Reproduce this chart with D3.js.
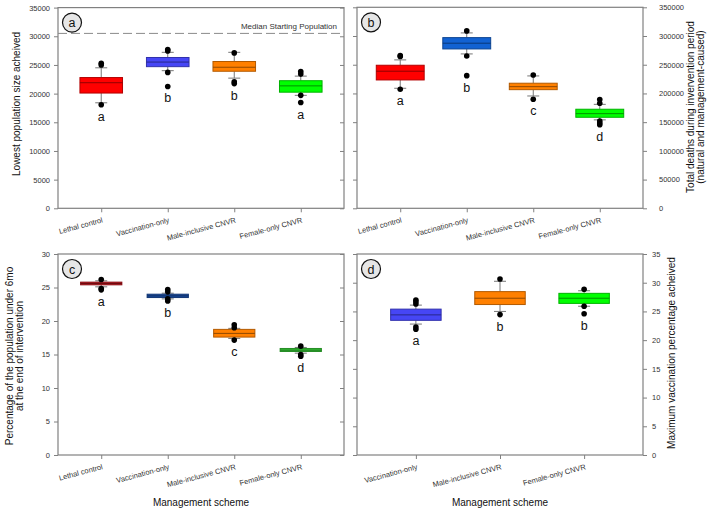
<!DOCTYPE html>
<html><head><meta charset="utf-8">
<script src="https://cdn.jsdelivr.net/npm/d3@7"></script>
<style>body{margin:0;background:#fff}svg{display:block;font-family:"Liberation Sans",Arial,sans-serif}</style>
</head><body><svg id="chart" width="708" height="510"></svg>
<script>
// ---------- data ----------
const cats4 = ["Lethal control","Vaccination-only","Male-inclusive CNVR","Female-only CNVR"];
const cats3 = ["Vaccination-only","Male-inclusive CNVR","Female-only CNVR"];

// (a) Lowest population size achieved
const aLow  = [18400,24000,22700,19700];
const aQ1   = [20100,24700,23900,20250];
const aMed  = [21900,25500,24600,21350];
const aQ3   = [22800,26300,25600,22250];
const aHigh = [24500,27200,27200,23050];
const aOut  = [[25300,25000,18050],[27700,27450,23700,21250],[27100,22050,21750],[23850,23400,19700,18450]];
const aLetters = ["a","b","b","a"];
const medianStartingPopulation = 30500;

// (b) Total deaths during intervention period
const bLow  = [209000,268800,195600,154000];
const bQ1   = [223500,277500,206600,158500];
const bMed  = [238700,287500,211800,164800];
const bQ3   = [249100,297200,217800,172500];
const bHigh = [258400,305400,230500,181000];
const bOut  = [[265800,264500,207300],[308900,265300,231000],[232200,189900],[189500,183000,152000,148500,145500]];
const bLetters = ["a","b","c","d"];

// (c) Percentage of population under 6mo
const cLow  = [25.1,23.3,17.4,15.2];
const cQ1   = [25.4,23.5,17.6,15.45];
const cMed  = [25.6,23.75,18.15,15.65];
const cQ3   = [25.8,24.0,18.75,15.9];
const cHigh = [26.0,24.15,18.9,16.05];
const cOut  = [[26.2,24.85,24.65],[24.7,24.35,23.3,23.0],[19.45,19.0,17.15],[16.25,15.0,14.75]];
const cLetters = ["a","b","c","d"];

// (d) Maximum vaccination percentage achieved
const dLow  = [22.8,25.0,25.9];
const dQ1   = [23.45,26.2,26.4];
const dMed  = [24.4,27.3,27.3];
const dQ3   = [25.4,28.45,28.15];
const dHigh = [26.1,30.25,28.6];
const dOut  = [[27.0,26.7,26.3,22.3,21.9],[30.65,24.45],[28.85,25.9,24.6]];
const dLetters = ["a","b","b"];

const aTicks = [0,5000,10000,15000,20000,25000,30000,35000];
const bTicks = [0,50000,100000,150000,200000,250000,300000,350000];
const cTicks = [0,5,10,15,20,25,30];
const dTicks = [0,5,10,15,20,25,30,35];

const colA = ["#ff0000","#4646f5","#ff8000","#00ff00"];
const colB = ["#ff0000","#1262d2","#ff8000","#00ff00"];
const colC = ["#c0141c","#1a4ea6","#ff8000","#36c936"];
const colD = ["#4646f5","#ff8000","#00ff00"];

// ---------- drawing ----------
const svg = d3.select("#chart");
const AX = "#808080", TXT = "#333", FONT = '"Liberation Sans",Arial,sans-serif';

function panel(cfg){
  const g = svg.append("g");
  const n = cfg.cats.length;
  const x = d3.scaleLinear().domain(cfg.xdom).range([cfg.l, cfg.r]);
  const y = d3.scaleLinear().domain([0, cfg.ymax]).range([cfg.b, cfg.t]);
  const step = x(2) - x(1);
  const bw = step * cfg.bwf;
  const cap = 12;
  const idx = d3.range(1, n + 1);

  // frame
  g.append("rect").attr("x", cfg.l).attr("y", cfg.t).attr("width", cfg.r - cfg.l).attr("height", cfg.b - cfg.t)
    .attr("fill", "none").attr("stroke", AX).attr("stroke-width", 1.2);

  // y axis with labels
  const ax = cfg.side === "left" ? d3.axisLeft(y) : d3.axisRight(y);
  const yg = g.append("g").attr("transform", `translate(${cfg.side === "left" ? cfg.l : cfg.r},0)`)
    .call(ax.tickValues(cfg.ticks).tickSize(4).tickPadding(cfg.pad).tickFormat(d3.format("d")));
  yg.attr("font-family", FONT);
  yg.select(".domain").remove();
  yg.selectAll("line").attr("stroke", AX);
  yg.selectAll("text").attr("fill", TXT).style("font-size", "7.5px");
  // opposite-side minor ticks
  const ax2 = cfg.side === "left" ? d3.axisRight(y).tickSize(-4) : d3.axisLeft(y).tickSize(4);
  const yg2 = g.append("g").attr("transform", `translate(${cfg.side === "left" ? cfg.r : cfg.l},0)`)
    .call(ax2.tickValues(cfg.ticks).tickFormat(""));
  yg2.select(".domain").remove();
  yg2.selectAll("line").attr("stroke", AX);

  // x axis ticks
  const xg = g.append("g").attr("transform", `translate(0,${cfg.b})`)
    .call(d3.axisBottom(x).tickValues(idx).tickSize(4).tickFormat(""));
  xg.select(".domain").remove();
  xg.selectAll("line").attr("stroke", AX);
  g.selectAll(".xl").data(cfg.cats).enter().append("text")
    .attr("transform", (d, i) => `translate(${x(i + 1) + 2},${cfg.b + 14}) rotate(-15)`)
    .attr("text-anchor", "end").attr("fill", TXT).style("font-size", "7.5px").text(d => d);

  // extra elements (dashed line)
  if (cfg.extra) cfg.extra(g, x, y);

  // boxes
  idx.forEach((k, i) => {
    const cx = x(k);
    const col = cfg.colors[i];
    g.append("line").attr("x1", cx).attr("x2", cx).attr("y1", y(cfg.q3[i])).attr("y2", y(cfg.hi[i])).attr("stroke", "#777");
    g.append("line").attr("x1", cx).attr("x2", cx).attr("y1", y(cfg.q1[i])).attr("y2", y(cfg.lo[i])).attr("stroke", "#777");
    g.append("line").attr("x1", cx - cap / 2).attr("x2", cx + cap / 2).attr("y1", y(cfg.hi[i])).attr("y2", y(cfg.hi[i])).attr("stroke", "#777");
    g.append("line").attr("x1", cx - cap / 2).attr("x2", cx + cap / 2).attr("y1", y(cfg.lo[i])).attr("y2", y(cfg.lo[i])).attr("stroke", "#777");
    g.append("rect").attr("x", cx - bw / 2).attr("y", y(cfg.q3[i])).attr("width", bw)
      .attr("height", y(cfg.q1[i]) - y(cfg.q3[i])).attr("fill", col)
      .attr("stroke", d3.color(col).darker(1).formatHex()).attr("stroke-width", 1);
    g.append("line").attr("x1", cx - bw / 2).attr("x2", cx + bw / 2).attr("y1", y(cfg.med[i])).attr("y2", y(cfg.med[i]))
      .attr("stroke", d3.color(col).darker(1.6).formatHex()).attr("stroke-width", 1);
    g.selectAll(null).data(cfg.out[i]).enter().append("circle")
      .attr("cx", cx).attr("cy", d => y(d)).attr("r", 2.8).attr("fill", "#000");
    const lowest = d3.min([cfg.lo[i], ...cfg.out[i]]);
    g.append("text").attr("x", cx).attr("y", y(lowest) + 16).attr("text-anchor", "middle")
      .attr("fill", "#111").style("font-size", "12.5px").text(cfg.letters[i]);
  });

  // panel badge
  g.append("circle").attr("cx", cfg.l + 14).attr("cy", cfg.t + 15).attr("r", 9.5)
    .attr("fill", "#e6e6e6").attr("stroke", "#111").attr("stroke-width", 1.2);
  g.append("text").attr("x", cfg.l + 14).attr("y", cfg.t + 15).attr("dy", "0.36em").attr("text-anchor", "middle")
    .attr("fill", "#111").style("font-size", "12.5px").text(cfg.id);
}

panel({id:"a", cats:cats4, xdom:[0.35,4.65], l:58, r:344, t:7.6, b:208.3, ymax:35000, ticks:aTicks, side:"left", pad:4, bwf:0.64,
  lo:aLow, q1:aQ1, med:aMed, q3:aQ3, hi:aHigh, out:aOut, letters:aLetters, colors:colA,
  extra:(g, x, y) => {
    g.append("line").attr("x1", 58).attr("x2", 344).attr("y1", y(medianStartingPopulation)).attr("y2", y(medianStartingPopulation))
      .attr("stroke", "#8a8a8a").attr("stroke-dasharray", "9,4").attr("stroke-width", 1);
    g.append("text").attr("x", 337).attr("y", y(medianStartingPopulation) - 4).attr("text-anchor", "end")
      .attr("fill", TXT).style("font-size", "8px").text("Median Starting Population");
  }});
panel({id:"b", cats:cats4, xdom:[0.35,4.65], l:357, r:643, t:7.3, b:208.3, ymax:350000, ticks:bTicks, side:"right", pad:12, bwf:0.72,
  lo:bLow, q1:bQ1, med:bMed, q3:bQ3, hi:bHigh, out:bOut, letters:bLetters, colors:colB});
panel({id:"c", cats:cats4, xdom:[0.35,4.65], l:58, r:344, t:254, b:455, ymax:30, ticks:cTicks, side:"left", pad:4, bwf:0.62,
  lo:cLow, q1:cQ1, med:cMed, q3:cQ3, hi:cHigh, out:cOut, letters:cLetters, colors:colC});
panel({id:"d", cats:cats3, xdom:[0.3,3.7], l:357, r:643, t:254, b:455, ymax:35, ticks:dTicks, side:"right", pad:5, bwf:0.6,
  lo:dLow, q1:dQ1, med:dMed, q3:dQ3, hi:dHigh, out:dOut, letters:dLetters, colors:colD});

// axis titles
function vtext(xp, yp, str){
  svg.append("text").attr("transform", `translate(${xp},${yp}) rotate(-90)`).attr("text-anchor", "middle")
    .attr("dy", "0.35em").attr("fill", "#111").style("font-size", "10px").text(str);
}
vtext(16, 104, "Lowest population size acheived");
vtext(690.5, 107, "Total deaths during invervention period");
vtext(700.5, 107, "(natural and management-caused)");
vtext(9, 356, "Percentage of the population under 6mo");
vtext(19.5, 356, "at the end of intervention");
vtext(671.5, 353, "Maximum vaccination percentage acheived");
[[201, 502], [500, 502]].forEach(p => {
  svg.append("text").attr("x", p[0]).attr("y", p[1]).attr("dy", "0.35em").attr("text-anchor", "middle")
    .attr("fill", "#111").style("font-size", "10px").text("Management scheme");
});
</script></body></html>
